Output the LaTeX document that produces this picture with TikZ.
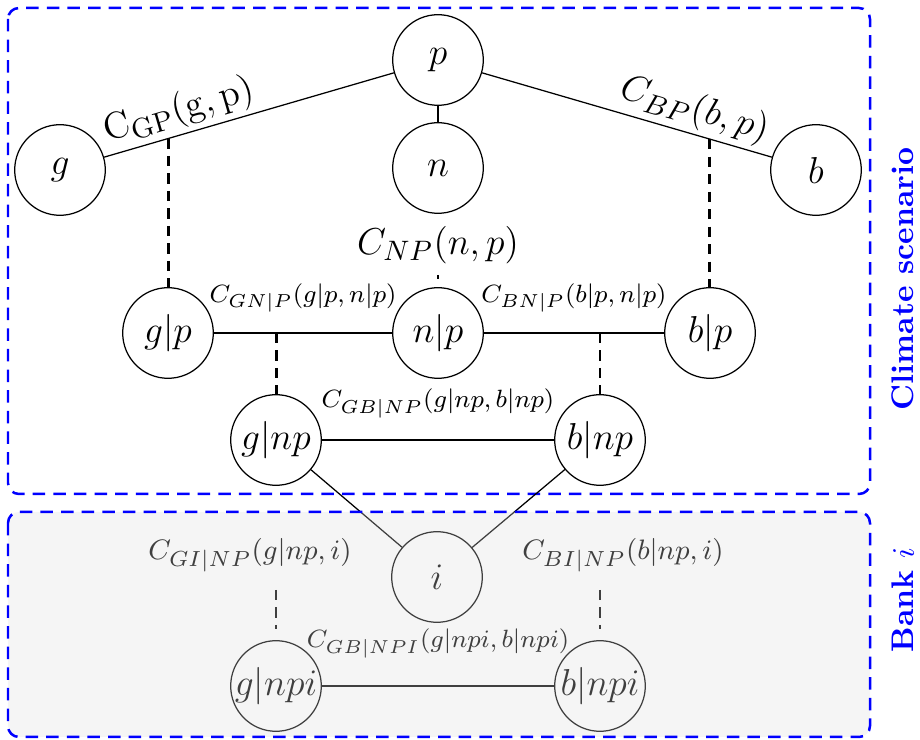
\documentclass[tikz,border=0pt]{standalone}
\usepackage{amsmath}
\usetikzlibrary{arrows.meta,calc,positioning}
\definecolor{RegionBlue}{HTML}{0000FF}
\definecolor{BankShade}{HTML}{DCDCDC}
\tikzset{
  varnode/.style={draw,circle,minimum size=29pt,inner sep=0pt,font=\large},
  cutline/.style={dash pattern=on 3.3pt off 2.3pt,line width=0.8pt},
  regionbox/.style={RegionBlue,dash pattern=on 4pt off 2.6pt,line width=0.8pt,
    rounded corners=3.5pt},
  biglabel/.style={font=\fontsize{12.4}{14}\selectfont},
  slopelabel/.style={sloped,anchor=base,yshift=4.5pt,
    font=\fontsize{12.4}{14}\selectfont},
  midlabel/.style={font=\fontsize{8.3}{10}\selectfont},
  lowlabel/.style={font=\fontsize{9.5}{11}\selectfont},
  sidelabel/.style={rotate=90,text=RegionBlue,font=\bfseries}
}

\begin{document}
\begin{tikzpicture}[x=0.32pt,y=-0.32pt]
        \useasboundingbox (0,0) rectangle (920,740);

        \draw[regionbox] (8,8) rectangle (870,494);

        \node[varnode] (p) at (438,60) {$p$};
        \node[varnode] (g) at (60,170) {$g$};
        \node[varnode] (n) at (438,168) {$n$};
        \node[varnode] (b) at (816,170) {$b$};

        \node[varnode] (gp) at (168,333) {$g|p$};
        \node[varnode] (np) at (438,333) {$n|p$};
        \node[varnode] (bp) at (710,333) {$b|p$};

        \node[varnode] (gnp) at (276,440) {$g|np$};
        \node[varnode] (bnp) at (600,440) {$b|np$};

        \node[varnode] (i) at (437,577) {$i$};

        \node[varnode] (gnpi) at (276,686) {$g|npi$};
        \node[varnode] (bnpi) at (600,686) {$b|npi$};

        \draw (g) -- node[pos=0.28,slopelabel]
          {$\mathrm{C_{GP}(g,p)}$} coordinate[pos=0.222] (cgp) (p);
        \draw (p) -- node[pos=0.71,slopelabel]
          {$C_{BP}(b,p)$} coordinate[pos=0.785] (cbp) (b);
        \draw (p) -- (n);

        \node[biglabel] (cnp) at (438,245) {$C_{NP}(n,p)$};

        \draw[cutline] (cgp) -- (cgp |- gp.north);
        \draw[cutline] (cbp) -- (cbp |- bp.north);
        \draw[cutline,shorten >=2.5pt] (cnp.south) -- (np.north);

        \draw (gp) -- node[above=3pt,midlabel]
          {$C_{GN|P}(g|p,n|p)$} coordinate[pos=0.35] (cgn) (np);
        \draw (np) -- node[above=3pt,midlabel]
          {$C_{BN|P}(b|p,n|p)$} coordinate[pos=0.643] (cbn) (bp);

        \draw[cutline] (cgn) -- (cgn |- gnp.north);
        \draw[cutline] (cbn) -- (cbn |- bnp.north);

        \draw (gnp) -- node[above=3.5pt,midlabel]
          {$C_{GB|NP}(g|np,b|np)$} (bnp);
        \draw (gnp) -- (i);
        \draw (bnp) -- (i);

        \node[lowlabel] (cgi) at (250,555) {$C_{GI|NP}(g|np,i)$};
        \node[lowlabel] (cbi) at (623,555) {$C_{BI|NP}(b|np,i)$};
        \coordinate (cgitop) at (276,590);
        \coordinate (cbitop) at (600,590);
        \draw[cutline,shorten >=3.5pt] (cgitop) -- (gnpi.north);
        \draw[cutline,shorten >=3.5pt] (cbitop) -- (bnpi.north);

        \draw (gnpi) -- node[above=5.5pt,midlabel]
          {$C_{GB|NPI}(g|npi,b|npi)$} (bnpi);

        \fill[BankShade,fill opacity=0.29,rounded corners=3.5pt]
          (8,512) rectangle (870,737);
        \draw[regionbox] (8,512) rectangle (870,737);

        \node[sidelabel] at (903,279) {Climate scenario};
        \node[sidelabel] at (903,600) {Bank $i$};
\end{tikzpicture}
\end{document}
